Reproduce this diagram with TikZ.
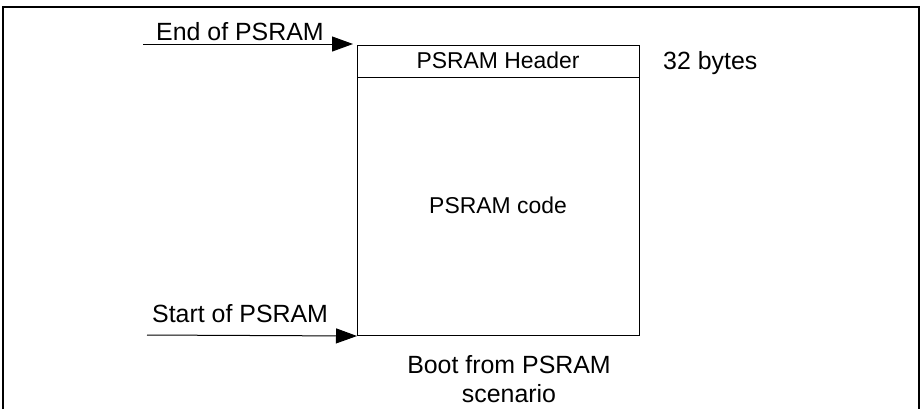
\documentclass[tikz,border=0pt]{standalone}
\usepackage{fontspec}
\setmainfont{Liberation Sans}
\usetikzlibrary{arrows.meta}
\begin{document}
\begin{tikzpicture}[x=1bp,y=-1bp,
  lbl/.style={inner sep=0pt, font=\fontsize{23}{29}\selectfont},
  olbl/.style={inner sep=0pt, font=\fontsize{25}{29}\selectfont},
  boxline/.style={draw=black, line width=1bp},
  arr/.style={line width=1bp, -{Triangle[length=21bp,width=15bp]}}]
\useasboundingbox (0,0) rectangle (921,409);
% outer frame (bottom open)
\draw[line width=1.2bp] (3,409) -- (3,7) -- (919,7) -- (919,409);
% memory block
\node[boxline, minimum width=282bp, minimum height=290bp, inner sep=0pt, anchor=north west] (mem) at (357,45) {};
\node[boxline, minimum width=282bp, minimum height=32bp, inner sep=0pt, anchor=north west] (hdr) at (357,45) {};
\node[lbl, anchor=base] (hdrtxt) at (498,68) {PSRAM Header};
\node[lbl, anchor=base] (code) at (498,213) {PSRAM code};
\node[olbl, anchor=base west] (bytes) at (663,69) {32 bytes};
% arrows
\coordinate (endfrom) at (143,44);
\coordinate (startfrom) at (147,335);
\node[olbl, anchor=base west] (endtxt) at (156,40) {End of PSRAM};
\node[olbl, anchor=base west] (starttxt) at (152,322) {Start of PSRAM};
\draw[arr] (endfrom) -- ([xshift=-4bp,yshift=1bp]mem.north west);
\draw[arr] (startfrom) -- (mem.south west);
% caption
\node[olbl, anchor=base, align=center] (cap) at (509,402) {Boot from PSRAM\\scenario};
\end{tikzpicture}
\end{document}
